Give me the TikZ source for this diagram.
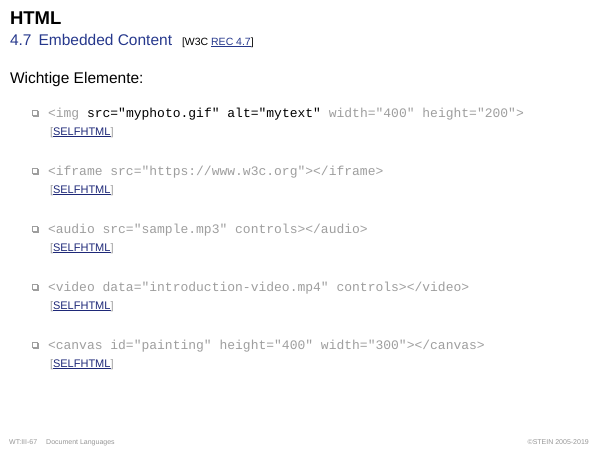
\documentclass[tikz,border=0pt]{standalone}
\usepackage{fontspec}
\setmainfont{Liberation Sans}
\newfontfamily\mono{Liberation Mono}
\definecolor{titleblue}{RGB}{38,56,140}
\definecolor{linkblue}{RGB}{30,40,120}
\definecolor{codegray}{RGB}{158,158,158}
\definecolor{footgray}{RGB}{150,150,150}
\tikzset{
  txt/.style={anchor=base west, inner sep=0pt, outer sep=0pt},
  code/.style={txt, font=\mono\fontsize{13}{15}\selectfont, text=codegray},
  link/.style={txt, font=\fontsize{11}{13}\selectfont},
  foot/.style={inner sep=0pt, font=\fontsize{7}{8}\selectfont, text=footgray},
  boxmark/.style={draw=codegray, line width=0.6pt, fill=white, minimum size=5.5pt, inner sep=0pt, outer sep=0pt},
}
\newcommand{\selfl}{{\color{codegray}[}\textcolor{linkblue}{\underline{SELFHTML}}{\color{codegray}]}}
\begin{document}
\begin{tikzpicture}[x=1pt,y=-1pt]
\useasboundingbox (0,0) rectangle (600,450);
\node[txt, font=\bfseries\fontsize{18.5}{20}\selectfont] (title) at (10,24) {HTML};
\node[txt, font=\fontsize{15.5}{18}\selectfont, text=titleblue] (sub) at (10,45) {4.7\hspace{7pt}Embedded Content};
\node[txt, font=\fontsize{10.5}{12}\selectfont] (w3c) at (182,45) {[W3C \textcolor{titleblue}{\underline{REC 4.7}}]};
\node[txt, font=\fontsize{15.5}{18}\selectfont] (wicht) at (10,83) {Wichtige Elemente:};

% item markers
\foreach \y [count=\i] in {113,171,229,287,345} {
  \fill[codegray] (33,\y-2.5) rectangle (39,\y+3.5);
  \node[boxmark] (m\i) at (35,\y) {};
}

\node[code] (c1) at (48,117) {<img \textcolor{black}{src="myphoto.gif" alt="mytext"} width="400" height="200">};
\node[link] (l1) at (50,135) {\selfl};
\node[code] (c2) at (48,175) {<iframe src="https://www.w3c.org"></iframe>};
\node[link] (l2) at (50,193) {\selfl};
\node[code] (c3) at (48,233) {<audio src="sample.mp3" controls></audio>};
\node[link] (l3) at (50,251) {\selfl};
\node[code] (c4) at (48,291) {<video data="introduction-video.mp4" controls></video>};
\node[link] (l4) at (50,309) {\selfl};
\node[code] (c5) at (48,349) {<canvas id="painting" height="400" width="300"></canvas>};
\node[link] (l5) at (50,367) {\selfl};

\node[foot, anchor=base west] (f1) at (9,444) {WT:III-67\hspace{9pt}Document Languages};
\node[foot, anchor=base east] (f2) at (589,444) {\textcopyright STEIN 2005-2019};
\end{tikzpicture}
\end{document}
